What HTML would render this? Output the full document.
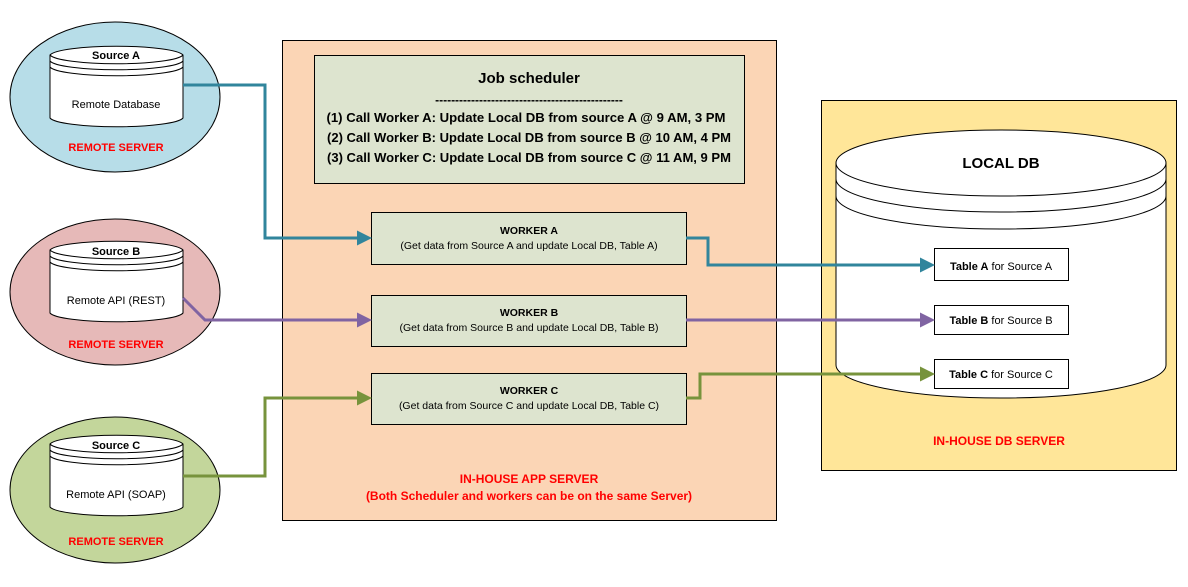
<!DOCTYPE html>
<html><head><meta charset="utf-8"><style>
html,body{margin:0;padding:0;background:#fff}
svg{display:block}
text{font-family:"Liberation Sans",Arial,sans-serif;fill:#000}
</style></head><body>
<svg width="1188" height="587" viewBox="0 0 1188 587" xmlns="http://www.w3.org/2000/svg">
<defs>
<marker id="mt" markerWidth="5" markerHeight="5" refX="4" refY="2.5" orient="auto" markerUnits="strokeWidth"><path d="M0,0 L5,2.5 L0,5z" fill="#31859c"/></marker>
<marker id="mp" markerWidth="5" markerHeight="5" refX="4" refY="2.5" orient="auto" markerUnits="strokeWidth"><path d="M0,0 L5,2.5 L0,5z" fill="#8064a2"/></marker>
<marker id="mg" markerWidth="5" markerHeight="5" refX="4" refY="2.5" orient="auto" markerUnits="strokeWidth"><path d="M0,0 L5,2.5 L0,5z" fill="#77933c"/></marker>
</defs>

<!-- Remote servers -->
<ellipse cx="115" cy="97" rx="105" ry="75" fill="#b7dde8" stroke="#000" stroke-width="1"/>
<ellipse cx="115" cy="292" rx="105" ry="73" fill="#e6b9b8" stroke="#000" stroke-width="1"/>
<ellipse cx="115" cy="490" rx="105" ry="73" fill="#c3d69b" stroke="#000" stroke-width="1"/>

<g fill="#fff" stroke="#000" stroke-width="1">
<path d="M50,55 A67,10 0 0 1 183,55 L183,118 A67,10 0 0 1 50,118 Z"/>
<path d="M50,55 A67,10 0 0 0 183,55 M50,61 A67,10 0 0 0 183,61 M50,67 A67,10 0 0 0 183,67" fill="none"/>
<path d="M50,250 A67,10 0 0 1 183,250 L183,313 A67,10 0 0 1 50,313 Z"/>
<path d="M50,250 A67,10 0 0 0 183,250 M50,256 A67,10 0 0 0 183,256 M50,262 A67,10 0 0 0 183,262" fill="none"/>
<path d="M50,444 A67,10 0 0 1 183,444 L183,507 A67,10 0 0 1 50,507 Z"/>
<path d="M50,444 A67,10 0 0 0 183,444 M50,450 A67,10 0 0 0 183,450 M50,456 A67,10 0 0 0 183,456" fill="none"/>
</g>
<g font-size="11" text-anchor="middle">
<text x="116" y="59" font-weight="bold">Source A</text>
<text x="116" y="108">Remote Database</text>
<text x="116" y="151" font-weight="bold" style="fill:#ff0000">REMOTE SERVER</text>
<text x="116" y="255" font-weight="bold">Source B</text>
<text x="116" y="304">Remote API (REST)</text>
<text x="116" y="348" font-weight="bold" style="fill:#ff0000">REMOTE SERVER</text>
<text x="116" y="449" font-weight="bold">Source C</text>
<text x="116" y="498">Remote API (SOAP)</text>
<text x="116" y="545" font-weight="bold" style="fill:#ff0000">REMOTE SERVER</text>
</g>

<!-- App server -->
<rect x="282.5" y="40.5" width="494" height="480" fill="#fbd5b5" stroke="#000"/>
<rect x="314.5" y="55.5" width="430" height="128" fill="#dde4cf" stroke="#000"/>
<g font-weight="bold" text-anchor="middle">
<text x="529" y="83" font-size="15">Job scheduler</text>
<text x="529" y="104" font-size="12">-----------------------------------------------</text>
<text x="526" y="122" font-size="12.5" textLength="399" lengthAdjust="spacingAndGlyphs">(1) Call Worker A: Update Local DB from source A @ 9 AM, 3 PM</text>
<text x="529" y="142" font-size="12.5" textLength="404" lengthAdjust="spacingAndGlyphs">(2) Call Worker B: Update Local DB from source B @ 10 AM, 4 PM</text>
<text x="529" y="162" font-size="12.5" textLength="404" lengthAdjust="spacingAndGlyphs">(3) Call Worker C: Update Local DB from source C @ 11 AM, 9 PM</text>
</g>
<g fill="#dde4cf" stroke="#000">
<rect x="371.5" y="212.5" width="315" height="52"/>
<rect x="371.5" y="295.5" width="315" height="51"/>
<rect x="371.5" y="373.5" width="315" height="51"/>
</g>
<g font-size="10.5" text-anchor="middle">
<text x="529" y="234" font-weight="bold">WORKER A</text>
<text x="529" y="249">(Get data from Source A and update Local DB, Table A)</text>
<text x="529" y="316" font-weight="bold">WORKER B</text>
<text x="529" y="331">(Get data from Source B and update Local DB, Table B)</text>
<text x="529" y="394" font-weight="bold">WORKER C</text>
<text x="529" y="409">(Get data from Source C and update Local DB, Table C)</text>
</g>
<g font-size="12" font-weight="bold" text-anchor="middle" style="fill:#ff0000">
<text x="529" y="483" style="fill:#ff0000">IN-HOUSE APP SERVER</text>
<text x="529" y="500" style="fill:#ff0000">(Both Scheduler and workers can be on the same Server)</text>
</g>

<!-- DB server -->
<rect x="821.5" y="100.5" width="355" height="370" fill="#ffe699" stroke="#000"/>
<path d="M836,163 A165,33 0 0 1 1166,163 L1166,365 A165,33 0 0 1 836,365 Z" fill="#fff" stroke="#000"/>
<path d="M836,163 A165,33 0 0 0 1166,163 M836,179 A165,33 0 0 0 1166,179 M836,196 A165,33 0 0 0 1166,196" fill="none" stroke="#000"/>
<text x="1001" y="168" font-size="15" font-weight="bold" text-anchor="middle">LOCAL DB</text>
<g fill="#fff" stroke="#000">
<rect x="934.5" y="248.5" width="134" height="32"/>
<rect x="934.5" y="305.5" width="134" height="29"/>
<rect x="934.5" y="359.5" width="134" height="29"/>
</g>
<g font-size="11" text-anchor="middle">
<text x="1001" y="270"><tspan font-weight="bold">Table A</tspan> for Source A</text>
<text x="1001" y="324"><tspan font-weight="bold">Table B</tspan> for Source B</text>
<text x="1001" y="378"><tspan font-weight="bold">Table C</tspan> for Source C</text>
</g>
<text x="999" y="445" font-size="12" font-weight="bold" text-anchor="middle" style="fill:#ff0000">IN-HOUSE DB SERVER</text>

<!-- Connectors -->
<g fill="none" stroke-width="3">
<polyline points="183,85 265,85 265,238 369,238" stroke="#31859c" marker-end="url(#mt)"/>
<polyline points="686,238 708,238 708,265 932,265" stroke="#31859c" marker-end="url(#mt)"/>
<polyline points="183,298 205,320 369,320" stroke="#8064a2" marker-end="url(#mp)"/>
<polyline points="686,320 932,320" stroke="#8064a2" marker-end="url(#mp)"/>
<polyline points="183,476 265,476 265,398 369,398" stroke="#77933c" marker-end="url(#mg)"/>
<polyline points="686,398 700,398 700,374 932,374" stroke="#77933c" marker-end="url(#mg)"/>
</g>
</svg>
</body></html>
